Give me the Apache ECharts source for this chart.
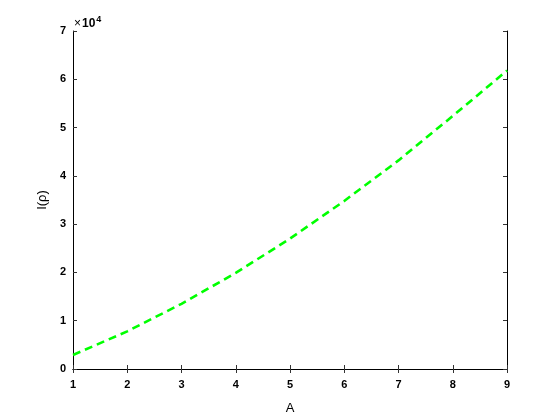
<!DOCTYPE html>
<html>
<head>
<meta charset="utf-8">
<script src="https://cdn.jsdelivr.net/npm/echarts@6/dist/echarts.min.js"></script>
<style>
  html, body { margin: 0; padding: 0; background: #fff; }
  #chart { width: 560px; height: 420px; }
</style>
</head>
<body>
<div id="chart"></div>
<script>
// values (y in units, axis shows x10^4)
const aValues = [1, 2, 3, 4, 5, 6, 7, 8, 9]
const iValues = [2900, 7800, 13500, 19900, 27000, 34800, 43200, 52400, 61800]
const yTicks = [0, 1, 2, 3, 4, 5, 6, 7]

const font = 'Arial, "Liberation Sans", sans-serif'
const tickFont = { color: '#000', fontWeight: 'bold', fontSize: 11, fontFamily: font }

const lineData = aValues.map((a, i) => [a, iValues[i]])

const boxAxis = {
  axisLine: { show: true, lineStyle: { color: '#000', width: 1 } },
  axisTick: { show: true, inside: true, length: 4, lineStyle: { color: '#333' } },
  splitLine: { show: false }
}

const chart = echarts.init(document.getElementById('chart'))
chart.setOption({
  animation: false,
  backgroundColor: '#fff',
  grid: { left: 73, right: 53, top: 31, bottom: 46, containLabel: false },
  xAxis: [
    {
      type: 'value', min: 1, max: 9, interval: 1, position: 'bottom',
      name: 'A', nameLocation: 'middle', nameGap: 33,
      nameTextStyle: { color: '#000', fontSize: 13, fontFamily: font },
      ...boxAxis,
      axisLabel: { ...tickFont, margin: 10 }
    },
    {
      type: 'value', min: 1, max: 9, interval: 1, position: 'top',
      ...boxAxis, axisLabel: { show: false }
    }
  ],
  yAxis: [
    {
      type: 'value', min: 0, max: 70000, interval: 10000, position: 'left',
      name: 'I(ρ)', nameLocation: 'middle', nameGap: 19, nameRotate: 90,
      nameTextStyle: { color: '#000', fontSize: 13, fontFamily: font },
      ...boxAxis,
      axisLabel: {
        ...tickFont, margin: 7,
        formatter: v => String(yTicks[Math.round(v / 10000)])
      }
    },
    {
      type: 'value', min: 0, max: 70000, interval: 10000, position: 'right',
      ...boxAxis, axisLabel: { show: false }
    }
  ],
  graphic: [
    {
      type: 'text', left: 74, top: 15,
      style: {
        text: '{x|×}{b|10}{s|4}',
        rich: {
          x: { fontSize: 12, color: '#444', fontFamily: font, padding: [4, 1, 0, 0] },
          b: { fontSize: 12, fontWeight: 'bold', color: '#000', fontFamily: font, padding: [4, 0, 0, 0] },
          s: { fontSize: 9, fontWeight: 'bold', color: '#000', fontFamily: font, padding: [0, 0, 5, 1] }
        }
      }
    }
  ],
  series: [
    {
      type: 'line',
      data: lineData,
      showSymbol: false,
      lineStyle: { color: '#00ff00', width: 2.6, type: [8, 5] }
    }
  ]
})
</script>
</body>
</html>
